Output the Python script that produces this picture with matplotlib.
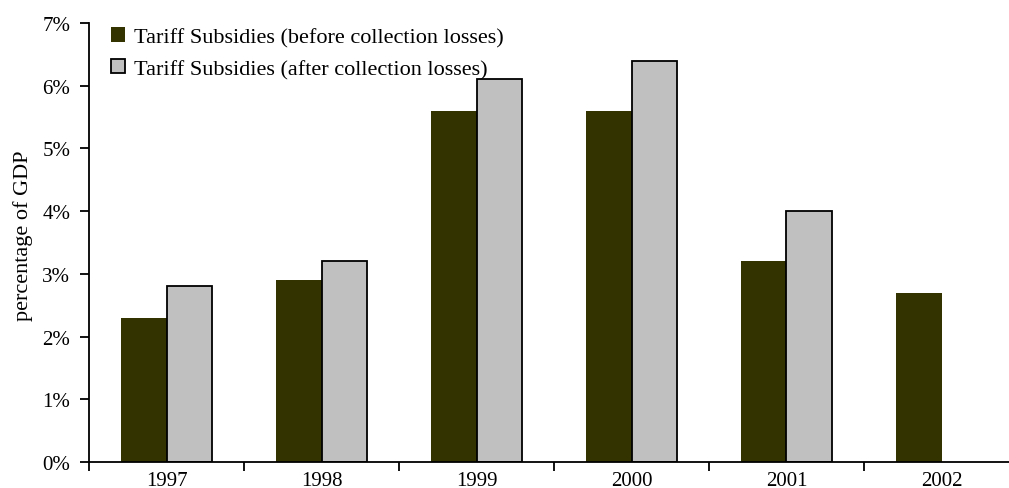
import matplotlib
matplotlib.use("Agg")
import matplotlib.pyplot as plt
import numpy as np
from matplotlib.ticker import FixedLocator, PercentFormatter

years = ["1997", "1998", "1999", "2000", "2001", "2002"]
before_losses = [2.3, 2.9, 5.6, 5.6, 3.2, 2.7]
after_losses = [2.8, 3.2, 6.1, 6.4, 4.0, np.nan]
series_names = ["Tariff Subsidies (before collection losses)",
                "Tariff Subsidies (after collection losses)"]

plt.rcParams["font.family"] = ["Liberation Serif", "DejaVu Serif"]

W, H = 1009, 489
fig = plt.figure(figsize=(W / 100, H / 100), dpi=100)
ax = fig.add_axes([89 / W, (H - 463) / H, (1019 - 89) / W, (463 - 24) / H])

x = np.arange(len(years))
bw = 0.293
ax.bar(x - bw / 2, before_losses, bw, color="#333300", edgecolor="#333300",
       linewidth=0, label=series_names[0])
ax.bar(x + bw / 2, after_losses, bw, color="#C0C0C0", edgecolor="black",
       linewidth=1.3, label=series_names[1])

ax.set_xlim(-0.5, len(years) - 0.5)
ax.set_ylim(0, 7)
ax.yaxis.set_major_locator(FixedLocator(np.arange(0, 8)))
ax.yaxis.set_major_formatter(PercentFormatter(decimals=0))

ax.set_xticks(x)
ax.set_xticklabels(years)
ax.xaxis.set_minor_locator(FixedLocator(np.arange(-0.5, len(years), 1.0)))
ax.tick_params(axis="x", which="major", length=0, pad=6.5, labelsize=15)
ax.tick_params(axis="x", which="minor", length=6.5, width=1.3, direction="out")
ax.tick_params(axis="y", length=6.5, width=1.3, direction="out", labelsize=15, pad=7)

for side in ("top", "right"):
    ax.spines[side].set_visible(False)
for side in ("left", "bottom"):
    ax.spines[side].set_linewidth(1.3)

ax.set_ylabel("percentage of GDP", fontsize=16)
ax.yaxis.set_label_coords(-0.060, 0.517)

ax.legend(loc="upper left", bbox_to_anchor=(0.0145, 1.01), frameon=False,
          fontsize=16, handlelength=0.6, handleheight=0.6, handletextpad=0.4,
          labelspacing=0.54, borderaxespad=0)

fig.savefig("out.png", dpi=100)
